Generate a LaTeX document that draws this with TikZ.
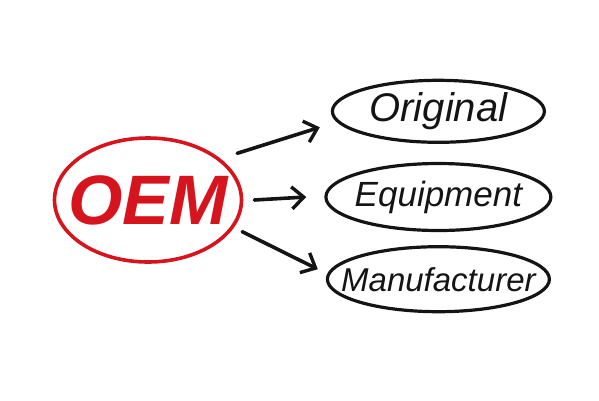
\documentclass[tikz,border=0pt]{standalone}
\usepackage{fontspec}
\setmainfont{Liberation Sans}
\usetikzlibrary{positioning,arrows.meta,shapes.geometric}
\definecolor{oemRed}{HTML}{D6141E}
\definecolor{oemInk}{HTML}{141414}
\tikzset{
  oemoval/.style={ellipse,draw=oemRed,line width=3.6pt,text=oemRed,
    minimum width=187pt,minimum height=124pt,inner xsep=-30pt,inner ysep=0pt,
    font=\fontsize{70}{70}\selectfont\bfseries\itshape},
  wordoval/.style={ellipse,draw=oemInk,line width=3.2pt,text=oemInk,
    inner xsep=-30pt,inner ysep=0pt,font=\fontsize{36}{36}\selectfont\itshape},
  oemarrow/.style={-{Straight Barb[length=12pt,width=22pt,line width=3.4pt]},
    line width=3.6pt,draw=oemInk,line cap=round}
}

\begin{document}
\begin{tikzpicture}[x=1pt,y=-1pt]
    \useasboundingbox (0,0) rectangle (599,400);
    \node[oemoval] (oem) at (148,200) {OEM};
    \node[wordoval,minimum width=225pt,minimum height=67pt,right=81pt of oem,yshift=3pt] (equipment)
      {\fontsize{35}{35}\selectfont Equipment};
    \node[wordoval,minimum width=212pt,minimum height=62pt,above=18pt of equipment] (original)
      {\fontsize{40}{40}\selectfont Original};
    \node[wordoval,minimum width=222pt,minimum height=65pt,below=13pt of equipment] (manufacturer)
      {\fontsize{33}{33}\selectfont Manufacturer};
    \draw[oemarrow] ([shift={(17,-5)}]oem.30) -- ([shift={(-11,16)}]original.west);
    \draw[oemarrow] ([xshift=11pt]oem.east) -- ([xshift=-18pt]equipment.west);
    \draw[oemarrow] ([shift={(22,-10)}]oem.-30) -- ([shift={(-8,-10)}]manufacturer.west);
  \end{tikzpicture}
\end{document}
